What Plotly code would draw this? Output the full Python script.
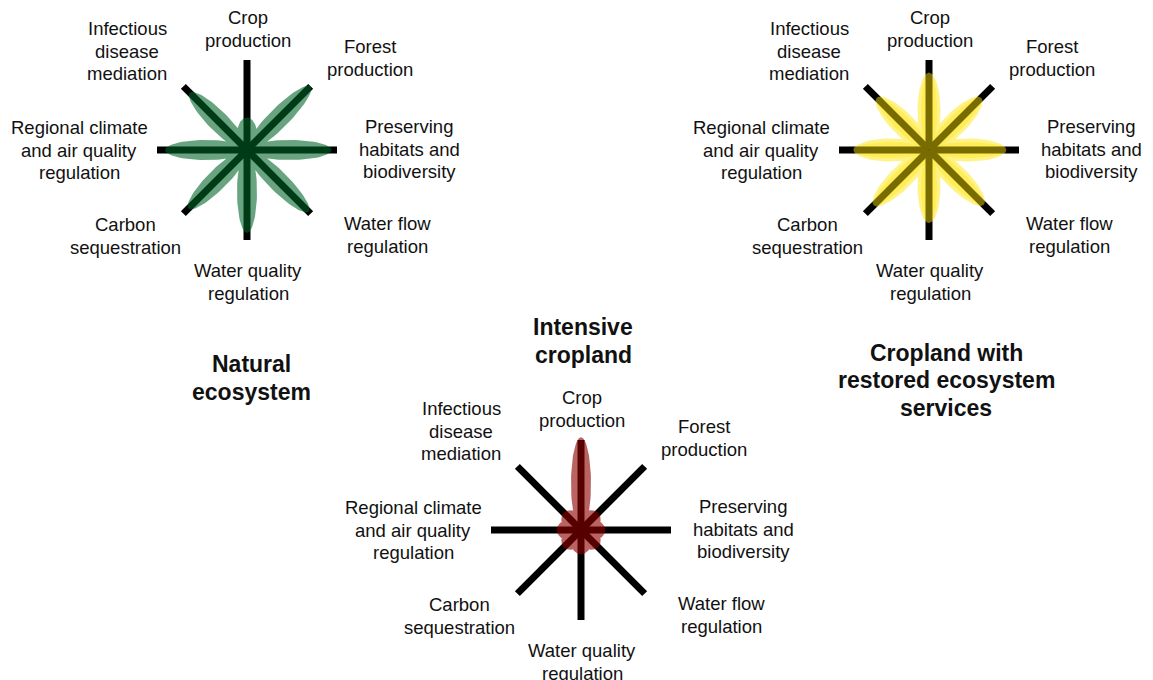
import numpy as np
import plotly.graph_objects as go

# services, clockwise from the top
services = [
    'Crop<br>production',
    'Forest<br>production',
    'Preserving<br>habitats and<br>biodiversity',
    'Water flow<br>regulation',
    'Water quality<br>regulation',
    'Carbon<br>sequestration',
    'Regional climate<br>and air quality<br>regulation',
    'Infectious<br>disease<br>mediation',
]
angles = [90, 45, 0, -45, -90, -135, 180, 135]

# petal length as share of the full axis
natural = [0.36, 1.0, 0.94, 0.97, 0.92, 0.92, 0.91, 0.90]
intensive = [1.03, 0.27, 0.27, 0.27, 0.27, 0.27, 0.27, 0.27]
restored = [0.86, 0.82, 0.86, 0.86, 0.81, 0.87, 0.84, 0.82]

titles = ['Natural<br>ecosystem', 'Intensive<br>cropland', 'Cropland with<br>restored ecosystem<br>services']

# layout stuff (pixel space, page has an 8px body margin)
W, H = 1153, 680
PAD = 8
R = 90
label_off = [(1, -121), (123, -92), (162, -1), (140, 85), (1, 132), (-122, 86), (-168, 0), (-120, -99)]

fig = go.Figure()


def add_text(x, y, text, size, gap, bold=False):
    # one annotation per line so the line spacing can be set
    lines = text.split('<br>')
    y0 = y - gap * (len(lines) - 1) / 2
    for i, ln in enumerate(lines):
        if bold:
            ln = '<b>' + ln + '</b>'
        fig.add_annotation(x=x, y=y0 + i * gap, text=ln, showarrow=False,
                           font=dict(size=size, color='#111111'))


def add_petals(cx, cy, values, w, color):
    # all petals of one layer in a single path, so overlaps don't stack up
    s = np.linspace(0, 2 * np.pi, 80)
    xs, ys = [], []
    for a, v in zip(angles, values):
        t = np.deg2rad(a)
        L = v * R
        along = L / 2 + L / 2 * np.cos(s)
        perp = w * np.sin(s)
        xs += list(cx + along * np.cos(t) - perp * np.sin(t)) + [None]
        ys += list(cy - (along * np.sin(t) + perp * np.cos(t))) + [None]
    fig.add_trace(go.Scatter(x=xs, y=ys, mode='lines', fill='toself', fillcolor=color,
                             line=dict(width=0), hoverinfo='skip', showlegend=False))


def add_axes(cx, cy):
    xs, ys = [], []
    for a in angles:
        t = np.deg2rad(a)
        xs += [cx, cx + R * np.cos(t), None]
        ys += [cy, cy - R * np.sin(t), None]
    fig.add_trace(go.Scatter(x=xs, y=ys, mode='lines', line=dict(color='black', width=7),
                             hoverinfo='skip', showlegend=False))


def add_flower(cx, cy, values, below, above):
    for w, c in below:
        add_petals(cx, cy, values, w, c)
    add_axes(cx, cy)
    for w, c in above:
        add_petals(cx, cy, values, w, c)
    for lab, (dx, dy) in zip(services, label_off):
        add_text(cx + dx, cy + dy, lab, 18.5, 22.5)


add_flower(247, 150, natural, [], [(10, 'rgba(0,100,40,0.59)')])
add_flower(929, 150, restored, [(8, 'rgba(255,225,0,0.35)')], [(11.5, 'rgba(255,228,0,0.47)')])
add_flower(581, 530, intensive, [], [(10, 'rgba(140,0,0,0.61)')])

for (tx, ty), t in zip([(251, 378), (583, 341), (946, 380)], titles):
    add_text(tx, ty, t, 23, 27.5, bold=True)

fig.update_xaxes(range=[PAD, W + PAD], visible=False)
fig.update_yaxes(range=[H + PAD, PAD], visible=False)
fig.update_layout(width=W, height=H, margin=dict(l=0, r=0, t=0, b=0),
                  plot_bgcolor='white', paper_bgcolor='white',
                  font=dict(family='Liberation Sans, Arial, sans-serif'))

fig.write_html('out.html')
